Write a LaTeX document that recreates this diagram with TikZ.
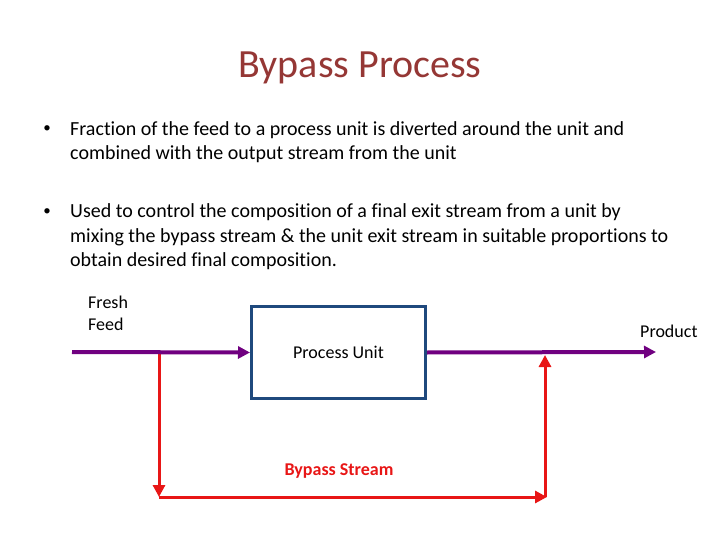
\documentclass[tikz,border=0pt]{standalone}
\usepackage{fontspec}
\setmainfont{Carlito}[Ligatures=NoCommon]
\usetikzlibrary{arrows.meta}
\definecolor{titlered}{RGB}{149,55,53}
\definecolor{boxblue}{RGB}{31,73,125}
\definecolor{streampurple}{RGB}{112,0,128}
\definecolor{bypassred}{RGB}{232,22,22}
\tikzset{
  bodytext/.style={anchor=base west, inner sep=0pt, font=\fontsize{20}{24}\selectfont},
  bulletmark/.style={anchor=base, inner sep=0pt, font=\fontsize{15}{18}\selectfont},
  smalltext/.style={inner sep=0pt, font=\fontsize{18}{22}\selectfont},
  mainflow/.style={draw=streampurple, line width=4pt, -{Triangle[length=12pt,width=12pt]}},
  bypassflow/.style={draw=bypassred, line width=3pt, -{Triangle[length=12pt,width=12pt]}},
  unitbox/.style={draw=boxblue, line width=3pt, minimum width=174pt, minimum height=92pt, inner sep=0pt, font=\fontsize{18}{22}\selectfont}
}
\begin{document}
\begin{tikzpicture}[x=1pt,y=-1pt]
\useasboundingbox (0,0) rectangle (720,540);
% title
\node[inner sep=0pt, text=titlered, font=\fontsize{40}{48}\selectfont] (title) at (360,68) {Bypass Process};
% bullet 1
\node[bulletmark] (dot1) at (47,133) {•};
\node[bodytext] (b1l1) at (70,136) {Fraction of the feed to a process unit is diverted around the unit and};
\node[bodytext] (b1l2) at (70,160) {combined with the output stream from the unit};
% bullet 2
\node[bulletmark] (dot2) at (47,215) {•};
\node[bodytext] (b2l1) at (70,218) {Used to control the composition of a final exit stream from a unit by};
\node[bodytext] (b2l2) at (70,242) {mixing the bypass stream \& the unit exit stream in suitable proportions to};
\node[bodytext] (b2l3) at (70,266) {obtain desired final composition.};
% labels
\node[smalltext, anchor=base west] (fresh) at (88,308) {Fresh};
\node[smalltext, anchor=base west] (feedlbl) at (88,330) {Feed};
\node[smalltext, anchor=base west] (product) at (640,337) {Product};
% process unit
\node[unitbox] (unit) at (338.5,352.5) {Process Unit};
% coordinates
\coordinate (feed) at (72,352);
\coordinate (split) at (159,352);
\coordinate (bl) at (159,497);
\coordinate (br) at (547,497);
\coordinate (mergebottom) at (545,497);
\coordinate (merge) at (545,355);
\coordinate (prod) at (656,352);
% bypass
\draw[bypassflow] (split) -- (bl);
\draw[bypassflow] (bl) -- (br);
\draw[bypassflow] (mergebottom) -- (merge);
% main flow
\draw[mainflow] (feed) -- (unit.west);
\draw[mainflow] (unit.east) -- (prod);
\node[smalltext, anchor=base, text=bypassred, font=\fontsize{18}{22}\selectfont\bfseries] (bypass) at (339,475) {Bypass Stream};
\end{tikzpicture}
\end{document}
